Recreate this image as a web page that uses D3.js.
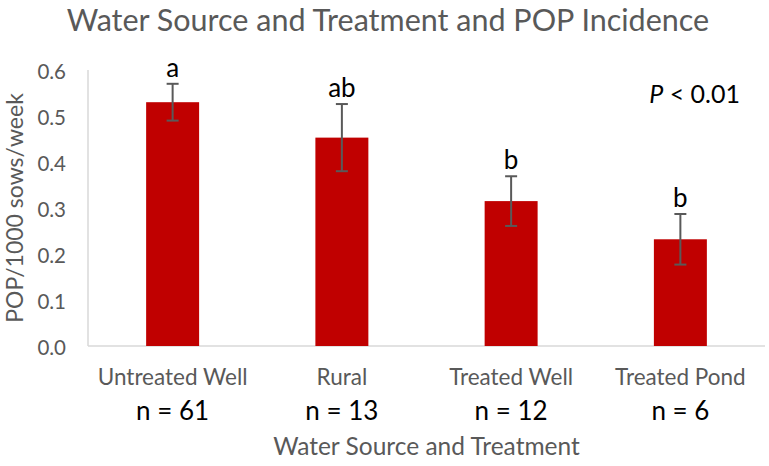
<!DOCTYPE html>
<html>
<head>
<meta charset="utf-8">
<script src="https://cdn.jsdelivr.net/npm/d3@7"></script>
<style>
  body { margin: 0; background: #fff; }
  text { font-family: Lato, "Open Sans", sans-serif; }
</style>
</head>
<body>
<div id="chart"></div>
<script>
var categories = ["Untreated Well", "Rural", "Treated Well", "Treated Pond"];
var nLabels = ["n = 61", "n = 13", "n = 12", "n = 6"];
var means = [0.530, 0.453, 0.315, 0.232];
var errors = [0.040, 0.073, 0.054, 0.055];
var letters = ["a", "ab", "b", "b"];
var yTicks = [0, 0.1, 0.2, 0.3, 0.4, 0.5, 0.6];

var width = 769, height = 466;
var margin = {top: 70, right: 4, bottom: 120, left: 88};

var svg = d3.select("#chart").append("svg")
    .attr("width", width)
    .attr("height", height);

var x = d3.scaleBand()
    .domain(categories)
    .range([margin.left, width - margin.right])
    .padding(0);

var y = d3.scaleLinear()
    .domain([0, 0.6])
    .range([height - margin.bottom, margin.top]);

var barW = x.bandwidth() * 0.313;
function cx(i) { return x(categories[i]) + x.bandwidth() / 2; }

// axis lines
svg.append("line")
    .attr("x1", margin.left).attr("x2", margin.left)
    .attr("y1", y(0.6)).attr("y2", y(0))
    .attr("stroke", "#d9d9d9").attr("stroke-width", 1.5);
svg.append("line")
    .attr("x1", margin.left).attr("x2", width - margin.right)
    .attr("y1", y(0)).attr("y2", y(0))
    .attr("stroke", "#d9d9d9").attr("stroke-width", 1.5);

// y tick labels
svg.selectAll(".ytick")
    .data(yTicks)
    .enter().append("text")
    .attr("class", "ytick")
    .attr("x", 66)
    .attr("y", function(d) { return y(d); })
    .attr("dy", "0.42em")
    .attr("text-anchor", "end")
    .attr("fill", "#595959")
    .attr("font-size", 20.5)
    .text(function(d) { return d3.format(".1f")(d); });

// bars
svg.selectAll(".bar")
    .data(means)
    .enter().append("rect")
    .attr("class", "bar")
    .attr("x", function(d, i) { return cx(i) - barW / 2; })
    .attr("y", function(d) { return y(d); })
    .attr("width", barW)
    .attr("height", function(d) { return y(0) - y(d); })
    .attr("fill", "#c00000");

// error bars
var eb = svg.selectAll(".err")
    .data(means)
    .enter().append("g")
    .attr("class", "err")
    .attr("stroke", "#595959")
    .attr("stroke-width", 2);

eb.append("line")
    .attr("x1", function(d, i) { return cx(i); })
    .attr("x2", function(d, i) { return cx(i); })
    .attr("y1", function(d, i) { return y(d + errors[i]); })
    .attr("y2", function(d, i) { return y(d - errors[i]); });
[1, -1].forEach(function(s) {
  eb.append("line")
    .attr("x1", function(d, i) { return cx(i) - 6; })
    .attr("x2", function(d, i) { return cx(i) + 6; })
    .attr("y1", function(d, i) { return y(d + s * errors[i]); })
    .attr("y2", function(d, i) { return y(d + s * errors[i]); });
});

// significance letters
svg.selectAll(".letter")
    .data(letters)
    .enter().append("text")
    .attr("class", "letter")
    .attr("x", function(d, i) { return cx(i); })
    .attr("y", function(d, i) { return y(means[i] + errors[i]) - 7; })
    .attr("text-anchor", "middle")
    .attr("fill", "#000")
    .attr("font-size", 26)
    .text(function(d) { return d; });

// category labels
svg.selectAll(".cat")
    .data(categories)
    .enter().append("text")
    .attr("class", "cat")
    .attr("x", function(d, i) { return cx(i); })
    .attr("y", 385)
    .attr("text-anchor", "middle")
    .attr("fill", "#595959")
    .attr("font-size", 22.5)
    .text(function(d) { return d; });

// n labels
svg.selectAll(".nlab")
    .data(nLabels)
    .enter().append("text")
    .attr("class", "nlab")
    .attr("x", function(d, i) { return cx(i); })
    .attr("y", 420)
    .attr("text-anchor", "middle")
    .attr("fill", "#000")
    .attr("font-size", 26)
    .text(function(d) { return d; });

// axis titles
svg.append("text")
    .attr("x", (margin.left + width - margin.right) / 2).attr("y", 455)
    .attr("text-anchor", "middle")
    .attr("fill", "#595959")
    .attr("font-size", 24.5)
    .text("Water Source and Treatment");

svg.append("text")
    .attr("transform", "translate(23,208) rotate(-90)")
    .attr("text-anchor", "middle")
    .attr("fill", "#595959")
    .attr("font-size", 23)
    .text("POP/1000 sows/week");

// title
svg.append("text")
    .attr("x", 388).attr("y", 30.5)
    .attr("text-anchor", "middle")
    .attr("fill", "#595959")
    .attr("font-size", 30.5)
    .text("Water Source and Treatment and POP Incidence");

// p value
var p = svg.append("text")
    .attr("x", 740).attr("y", 103)
    .attr("text-anchor", "end")
    .attr("fill", "#000")
    .attr("font-size", 25);
p.append("tspan").attr("font-style", "italic").text("P");
p.append("tspan").text(" < 0.01");
</script>
</body>
</html>
